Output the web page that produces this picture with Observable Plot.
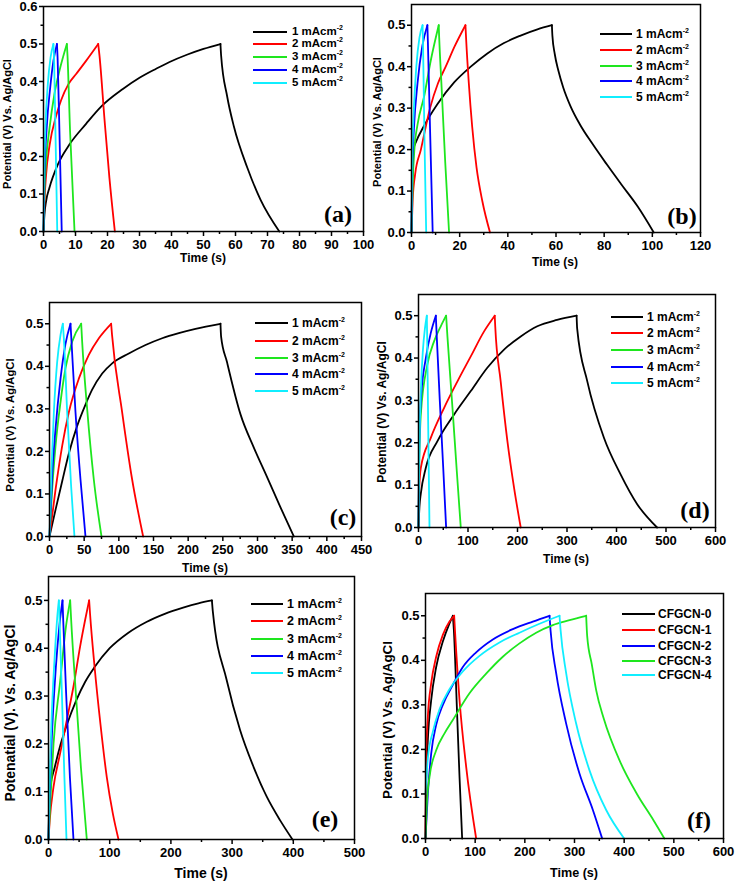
<!DOCTYPE html>
<html>
<head>
<meta charset="utf-8">
<script src="https://cdn.jsdelivr.net/npm/d3@7"></script>
<script src="https://cdn.jsdelivr.net/npm/@observablehq/plot@0.6"></script>
<style>
  body { margin: 0; background: #fff; }
  #fig { position: relative; width: 738px; height: 886px; overflow: hidden; background: #fff;
         font-family: "Liberation Sans", Arial, sans-serif; color: #000; }
  .panel { position: absolute; }
  .ylab { position: absolute; font-weight: bold; white-space: nowrap; line-height: 1;
          transform: translate(-50%, -50%) rotate(-90deg); }
  .xlab { position: absolute; font-weight: bold; white-space: nowrap; line-height: 1;
          transform: translate(-50%, -50%); }
  .tag { position: absolute; font-family: "Liberation Serif", "Times New Roman", serif; font-weight: bold;
         font-size: 24px; line-height: 1; transform: translateX(-50%); white-space: nowrap; }
  .legline { position: absolute; height: 2px; }
  .legtext { position: absolute; font-weight: bold; line-height: 1; white-space: nowrap;
             transform: translateY(-50%); }
  .legtext sup { font-size: 7px; vertical-align: 5px; line-height: 0; }
</style>
</head>
<body>
<div id="fig"></div>
<script>
// ---------------- DATA ----------------
const currentNames = ["1 mAcm", "2 mAcm", "3 mAcm", "4 mAcm", "5 mAcm"];
const currentSup = "-2";
const sampleNames = ["CFGCN-0", "CFGCN-1", "CFGCN-2", "CFGCN-3", "CFGCN-4"];
const currentColors = ["#000000", "#ff0000", "#1ee61e", "#0000ff", "#10eeff"];
const sampleColors = ["#000000", "#ff0000", "#0000ff", "#1ee61e", "#10eeff"];

const yLabel = "Potential (V) Vs. Ag/AgCl";
const yLabelE = "Potenatial (V). Vs. Ag/AgCl";
const xLabel = "Time (s)";
const panelTags = ["(a)", "(b)", "(c)", "(d)", "(e)", "(f)"];

const yTicksA = [0, 0.1, 0.2, 0.3, 0.4, 0.5, 0.6];
const yTicks = [0, 0.1, 0.2, 0.3, 0.4, 0.5];
const xTicksA = [0, 10, 20, 30, 40, 50, 60, 70, 80, 90, 100];
const xTicksB = [0, 20, 40, 60, 80, 100, 120];
const xTicksC = [0, 50, 100, 150, 200, 250, 300, 350, 400, 450];
const xTicksD = [0, 100, 200, 300, 400, 500, 600];
const xTicksE = [0, 100, 200, 300, 400, 500];
const xTicksF = [0, 100, 200, 300, 400, 500, 600];

// (a) [time s, potential V]
const curveA1 = [[0,0],[0.3,0.045],[0.8,0.08],[1.9,0.118],[4.5,0.179],[8.1,0.232],[13.3,0.287],[18,0.333],[24.8,0.38],[30,0.41],[35.2,0.434],[39.4,0.452],[45,0.472],[50,0.487],[55.3,0.5],[55.5,0.47],[57.4,0.36],[59.5,0.28],[63.7,0.17],[67.8,0.085],[73.7,0]];
const curveA2 = [[0,0],[0.3,0.08],[0.8,0.15],[1.9,0.23],[4,0.31],[5.5,0.35],[7.8,0.393],[10.2,0.42],[13.3,0.455],[17.1,0.5],[17.5,0.469],[19.1,0.295],[20.6,0.143],[22.3,0]];
const curveA3 = [[0,0],[0.3,0.107],[0.8,0.1875],[1.9,0.277],[3.4,0.366],[5,0.429],[7.3,0.5],[7.5,0.469],[8.3,0.268],[9.7,0]];
const curveA4 = [[0,0],[0.3,0.15],[1,0.277],[2.1,0.384],[3.1,0.455],[4.2,0.5],[4.4,0.464],[5,0.259],[5.7,0]];
const curveA5 = [[0,0],[0.2,0.15],[0.6,0.277],[1.35,0.393],[2.2,0.464],[3.1,0.5],[3.3,0.464],[3.75,0.259],[4.3,0]];

// (b)
const curveB1 = [[0,0],[0.3,0.12],[0.8,0.2],[2,0.22],[5,0.255],[10.8,0.31],[17.7,0.362],[24.6,0.4],[31.5,0.432],[38.4,0.457],[45.3,0.475],[52.3,0.49],[58.3,0.5],[58.5,0.475],[59.5,0.43],[61,0.39],[63,0.35],[66,0.305],[70,0.26],[75,0.215],[81,0.165],[87,0.117],[94,0.062],[100.6,0]];
const curveB2 = [[0,0],[0.5,0.08],[1.5,0.14],[3.9,0.2],[7.7,0.3],[11,0.36],[14.2,0.4],[18,0.45],[22.4,0.5],[22.7,0.465],[23.8,0.36],[25.2,0.255],[27,0.157],[29.4,0.076],[32.6,0]];
const curveB3 = [[0,0],[0.5,0.12],[1.2,0.2],[2.5,0.26],[5.3,0.33],[8,0.415],[11.3,0.5],[11.5,0.47],[12.5,0.35],[14,0.17],[15.6,0]];
const curveB4 = [[0,0],[0.3,0.15],[1,0.25],[2.5,0.36],[4.5,0.45],[6.6,0.5],[6.8,0.46],[7.7,0.25],[8.8,0]];
const curveB5 = [[0,0],[0.3,0.18],[1,0.3],[2,0.4],[3.3,0.47],[4.6,0.5],[4.8,0.45],[5.4,0.22],[6.1,0]];

// (c)
const curveC1 = [[0,0],[9,0.065],[18.3,0.13],[27.9,0.195],[39.9,0.26],[51.9,0.31],[61.5,0.345],[76,0.383],[90.4,0.407],[114.4,0.43],[138.5,0.45],[162.5,0.466],[186.5,0.478],[210.6,0.488],[246.6,0.5],[247.5,0.47],[256,0.41],[275.5,0.287],[294.7,0.209],[314,0.139],[333,0.069],[352.4,0]];
const curveC2 = [[0,0],[8.7,0.11],[18.3,0.213],[27.9,0.292],[42.3,0.371],[56.7,0.427],[71.2,0.466],[88.9,0.5],[90.2,0.474],[104.8,0.292],[119.2,0.134],[135.1,0]];
const curveC3 = [[0,0],[3.8,0.11],[8.7,0.213],[15.9,0.316],[23,0.395],[32.7,0.458],[45.7,0.5],[47.1,0.458],[54.3,0.3],[63.9,0.134],[75,0]];
const curveC4 = [[0,0],[3.8,0.142],[8.7,0.253],[15.9,0.371],[23,0.452],[30.3,0.5],[31.2,0.474],[37.5,0.292],[44.7,0.134],[51.9,0]];
const curveC5 = [[0,0],[2.9,0.158],[6.3,0.292],[11.1,0.411],[15.9,0.474],[19.2,0.5],[20.7,0.466],[25.5,0.292],[31.2,0.118],[36,0]];

// (d)
const curveD1 = [[0,0],[2,0.05],[4.7,0.08],[14.8,0.141],[38.3,0.204],[72,0.267],[105.6,0.322],[139,0.377],[172.8,0.42],[206.5,0.451],[240,0.475],[280,0.49],[319.4,0.5],[320.5,0.47],[341,0.345],[374.6,0.212],[408,0.126],[441.8,0.055],[482,0]];
const curveD2 = [[0,0],[1,0.08],[4.7,0.141],[25,0.212],[52,0.283],[78.7,0.345],[105.6,0.404],[132.5,0.463],[154,0.5],[155,0.475],[166,0.345],[179.6,0.204],[193,0.094],[206.5,0]];
const curveD3 = [[0,0],[1,0.12],[4.7,0.267],[18,0.385],[31.6,0.44],[45,0.475],[55.8,0.5],[58.5,0.45],[68.6,0.283],[77.3,0.134],[85.4,0]];
const curveD4 = [[0,0],[1,0.15],[4.7,0.3],[14.8,0.4],[25,0.46],[35,0.5],[36.5,0.46],[43,0.3],[50,0.14],[55.8,0]];
const curveD5 = [[0,0],[2,0.2],[5,0.33],[9,0.42],[13,0.47],[16.8,0.5],[17.5,0.45],[19.5,0.25],[22.2,0]];

// (e)
const curveE1 = [[0,0],[1,0.07],[3,0.11],[10,0.15],[20,0.2],[30,0.24],[45,0.29],[60,0.33],[75,0.36],[100,0.4],[130,0.432],[160,0.455],[190,0.472],[220,0.485],[245,0.494],[267,0.5],[268.5,0.477],[291,0.334],[313,0.229],[335,0.152],[356.8,0.089],[378.5,0.04],[398.7,0]];
const curveE2 = [[0,0],[2,0.04],[8.2,0.11],[19,0.18],[30,0.25],[40.8,0.32],[51.7,0.404],[60,0.46],[66.4,0.5],[68,0.47],[75,0.365],[85,0.24],[95.3,0.13],[105,0.055],[114.4,0]];
const curveE3 = [[0,0],[3,0.08],[8.2,0.2],[19,0.33],[28,0.44],[35.4,0.5],[37,0.46],[45,0.3],[53,0.15],[62.6,0]];
const curveE4 = [[0,0],[2,0.1],[6,0.23],[12,0.36],[18,0.45],[22.9,0.5],[24,0.46],[29,0.3],[35,0.13],[40.8,0]];
const curveE5 = [[0,0],[1.5,0.1],[5,0.25],[10,0.38],[14,0.46],[16.9,0.5],[18,0.46],[22,0.3],[26,0.13],[29.4,0]];

// (f)
const curveF0 = [[0,0],[1.3,0.12],[4.7,0.221],[11.4,0.31],[21.5,0.385],[34.9,0.442],[48.3,0.483],[55,0.5],[57,0.47],[63.1,0.296],[68.5,0.138],[73.8,0]];
const curveF1 = [[0,0],[0.5,0.1],[1.3,0.183],[4.7,0.273],[11.4,0.348],[21.5,0.408],[34.9,0.457],[48.3,0.487],[57.7,0.5],[59.7,0.46],[68.5,0.311],[81.9,0.161],[102,0]];
const curveF2 = [[0,0],[4.7,0.1],[11.4,0.19],[21.5,0.255],[34.9,0.3],[55,0.345],[75.2,0.385],[102,0.418],[135.6,0.447],[175.8,0.47],[216.1,0.487],[249.7,0.5],[251.7,0.468],[263.1,0.371],[283.2,0.258],[310,0.146],[337,0.064],[355.7,0]];
const curveF3 = [[0,0],[2.7,0.079],[8,0.138],[21.5,0.198],[38.3,0.236],[55,0.266],[88.6,0.326],[122.1,0.37],[155.7,0.408],[189.3,0.438],[222.8,0.462],[256.4,0.479],[290,0.49],[323.5,0.5],[325.5,0.455],[335,0.39],[343.6,0.333],[358.7,0.27],[392,0.172],[425.7,0.1],[459,0.041],[481,0]];
const curveF4 = [[0,0.1],[4.7,0.18],[14.8,0.24],[28.2,0.29],[48.3,0.335],[75.2,0.375],[108.7,0.41],[149,0.44],[189.3,0.462],[229.5,0.482],[269.8,0.5],[271.8,0.47],[283.2,0.371],[303.3,0.258],[330.2,0.153],[363.8,0.064],[400,0]];

// ---------------- LAYOUT ----------------
const panels = [
  { tag: panelTags[0], names: currentNames, colors: currentColors, sup: true, curves: [curveA1, curveA2, curveA3, curveA4, curveA5],
    xDomain: [0, 100], xTicks: xTicksA, yDomain: [0, 0.6], yTicks: yTicksA, ylab: yLabel,
    box: { left: 0, top: 0, w: 368, h: 270, ml: 43, mr: 5, mt: 6, mb: 39 },
    ylabPos: [7, 124, 11], xlabPos: [203, 258, 12], tagPos: [338, 202], legFont: 11.5,
    leg: { x1: 253, x2: 287, xt: 292, ys: [32, 44, 57, 70, 83] } },
  { tag: panelTags[1], names: currentNames, colors: currentColors, sup: true, curves: [curveB1, curveB2, curveB3, curveB4, curveB5],
    xDomain: [0, 120], xTicks: xTicksB, yDomain: [0, 0.55], yTicks: yTicks, ylab: yLabel,
    box: { left: 370, top: 0, w: 368, h: 270, ml: 41, mr: 38, mt: 4, mb: 38 },
    ylabPos: [377, 122, 11], xlabPos: [555, 262, 12], tagPos: [682, 204], legFont: 12,
    leg: { x1: 600, x2: 632, xt: 636, ys: [34, 50, 66, 81, 97] } },
  { tag: panelTags[2], names: currentNames, colors: currentColors, sup: true, curves: [curveC1, curveC2, curveC3, curveC4, curveC5],
    xDomain: [0, 450], xTicks: xTicksC, yDomain: [0, 0.55], yTicks: yTicks, ylab: yLabel,
    box: { left: 0, top: 270, w: 368, h: 300, ml: 49, mr: 7, mt: 32, mb: 34 },
    ylabPos: [11, 425, 11.3], xlabPos: [205, 568, 12], tagPos: [343, 505], legFont: 12,
    leg: { x1: 255, x2: 288, xt: 292, ys: [323, 341, 358, 374, 391] } },
  { tag: panelTags[3], names: currentNames, colors: currentColors, sup: true, curves: [curveD1, curveD2, curveD3, curveD4, curveD5],
    xDomain: [0, 600], xTicks: xTicksD, yDomain: [0, 0.55], yTicks: yTicks, ylab: yLabel,
    box: { left: 370, top: 270, w: 368, h: 300, ml: 48, mr: 23, mt: 24, mb: 43 },
    ylabPos: [382, 412, 12], xlabPos: [566, 559, 12], tagPos: [695, 498], legFont: 12,
    leg: { x1: 611, x2: 643, xt: 647, ys: [317, 333, 350, 367, 383] } },
  { tag: panelTags[4], names: currentNames, colors: currentColors, sup: true, curves: [curveE1, curveE2, curveE3, curveE4, curveE5],
    xDomain: [0, 500], xTicks: xTicksE, yDomain: [0, 0.55], yTicks: yTicks, ylab: yLabelE,
    box: { left: 0, top: 570, w: 368, h: 316, ml: 48, mr: 14, mt: 6, mb: 47 },
    ylabPos: [10, 713, 14], xlabPos: [201, 873, 14], tagPos: [325, 807], legFont: 12.5,
    leg: { x1: 251, x2: 283, xt: 287, ys: [604, 621, 639, 656, 673] } },
  { tag: panelTags[5], names: sampleNames, colors: sampleColors, sup: false, curves: [curveF0, curveF1, curveF2, curveF3, curveF4],
    xDomain: [0, 600], xTicks: xTicksF, yDomain: [0, 0.55], yTicks: yTicks, ylab: yLabel,
    box: { left: 370, top: 570, w: 368, h: 316, ml: 55, mr: 15, mt: 23, mb: 48 },
    ylabPos: [388, 720, 13.4], xlabPos: [574, 873, 12.6], tagPos: [699, 808], legFont: 12,
    leg: { x1: 622, x2: 655, xt: 658, ys: [614, 630, 646, 661, 675] } }
];

const fig = document.getElementById("fig");

function minorTicks(ticks) {
  const out = [];
  for (let i = 0; i < ticks.length - 1; i++) out.push((ticks[i] + ticks[i + 1]) / 2);
  return out;
}

for (const p of panels) {
  const rows = [];
  p.curves.forEach((pts, i) => {
    const name = p.names[i];
    let peak = 0;
    pts.forEach((q, j) => { if (q[1] > pts[peak][1]) peak = j; });
    pts.forEach((q, j) => {
      if (j <= peak) rows.push({ t: q[0], v: q[1], s: name, seg: name + "-charge" });
      if (j >= peak) rows.push({ t: q[0], v: q[1], s: name, seg: name + "-discharge" });
    });
  });
  const b = p.box;
  const svg = Plot.plot({
    width: b.w, height: b.h,
    marginLeft: b.ml, marginRight: b.mr, marginTop: b.mt, marginBottom: b.mb,
    style: { background: "transparent", fontFamily: "'Liberation Sans', Arial, sans-serif",
             fontSize: "13px", fontWeight: "bold", color: "#000", overflow: "visible" },
    x: { domain: p.xDomain },
    y: { domain: p.yDomain },
    color: { domain: p.names, range: p.colors },
    marks: [
      Plot.line(rows, { x: "t", y: "v", z: "seg", stroke: "s", strokeWidth: 1.8, curve: "monotone-x" }),
      Plot.frame({ stroke: "#000", strokeWidth: 1.5 }),
      Plot.axisX({ ticks: p.xTicks, tickSize: 5, tickPadding: 3, strokeWidth: 1.5, tickFormat: d => String(d), label: null }),
      Plot.axisX({ ticks: minorTicks(p.xTicks), tickSize: 3, strokeWidth: 1.5, text: null, label: null }),
      Plot.axisY({ ticks: p.yTicks, tickSize: 4, tickPadding: 2, strokeWidth: 1.5, tickFormat: d3.format(".1f"), label: null }),
      Plot.axisY({ ticks: minorTicks(p.yTicks), tickSize: 2.5, strokeWidth: 1.5, text: null, label: null })
    ]
  });
  const wrap = document.createElement("div");
  wrap.className = "panel";
  wrap.style.left = b.left + "px";
  wrap.style.top = b.top + "px";
  wrap.appendChild(svg);
  fig.appendChild(wrap);

  const yl = document.createElement("div");
  yl.className = "ylab";
  yl.textContent = p.ylab;
  yl.style.left = p.ylabPos[0] + "px";
  yl.style.top = p.ylabPos[1] + "px";
  yl.style.fontSize = p.ylabPos[2] + "px";
  fig.appendChild(yl);

  const xl = document.createElement("div");
  xl.className = "xlab";
  xl.textContent = xLabel;
  xl.style.left = p.xlabPos[0] + "px";
  xl.style.top = p.xlabPos[1] + "px";
  xl.style.fontSize = p.xlabPos[2] + "px";
  fig.appendChild(xl);

  const tg = document.createElement("div");
  tg.className = "tag";
  tg.textContent = p.tag;
  tg.style.left = p.tagPos[0] + "px";
  tg.style.top = p.tagPos[1] + "px";
  fig.appendChild(tg);

  p.names.forEach((name, i) => {
    const ln = document.createElement("div");
    ln.className = "legline";
    ln.style.left = p.leg.x1 + "px";
    ln.style.width = (p.leg.x2 - p.leg.x1) + "px";
    ln.style.top = (p.leg.ys[i] - 1) + "px";
    ln.style.background = p.colors[i];
    fig.appendChild(ln);
    const tx = document.createElement("div");
    tx.className = "legtext";
    tx.style.left = p.leg.xt + "px";
    tx.style.top = p.leg.ys[i] + "px";
    tx.style.fontSize = p.legFont + "px";
    tx.appendChild(document.createTextNode(name));
    if (p.sup) {
      const s = document.createElement("sup");
      s.textContent = currentSup;
      tx.appendChild(s);
    }
    fig.appendChild(tx);
  });
}
</script>
</body>
</html>
